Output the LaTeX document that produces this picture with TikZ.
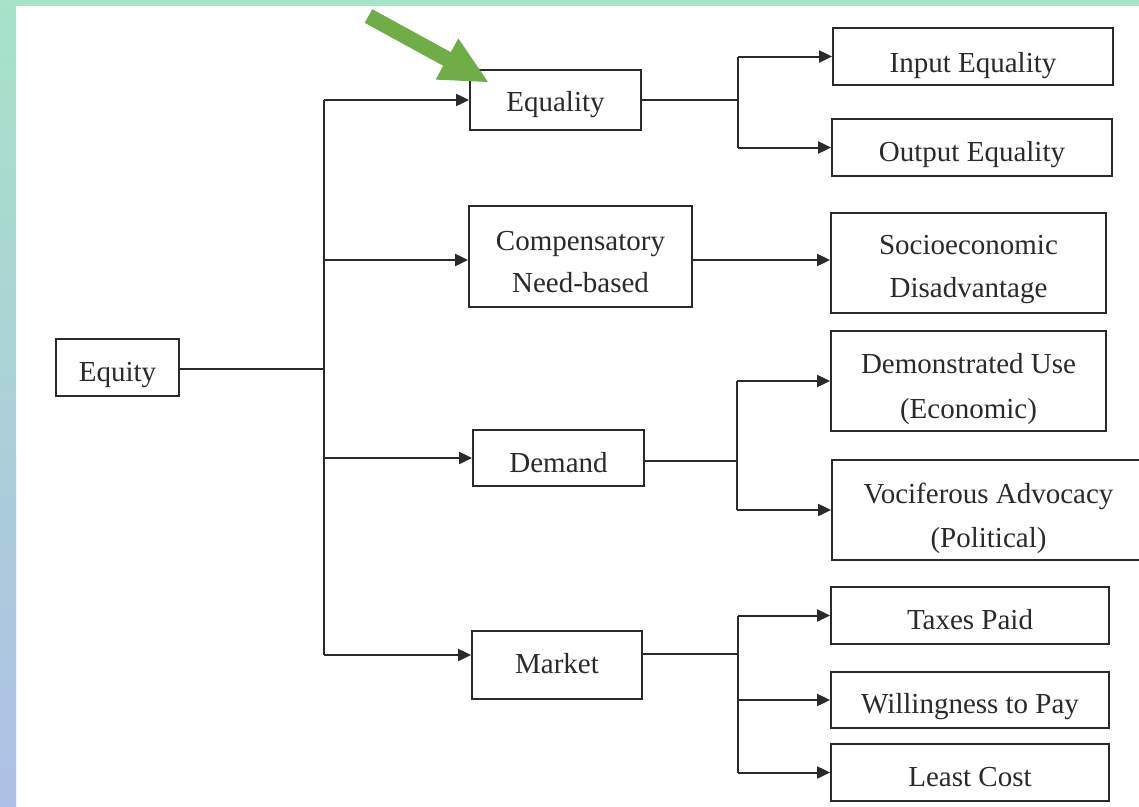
\documentclass[tikz,border=0pt]{standalone}
\usepackage{fontspec}
\setmainfont{Liberation Serif}
\usetikzlibrary{arrows.meta}
\definecolor{bandgreen}{HTML}{A6E3C8}
\definecolor{bandblue}{HTML}{AEC0E6}
\definecolor{arrowgreen}{HTML}{70AD47}
\definecolor{ink}{HTML}{2A2A2A}
\begin{document}
\begin{tikzpicture}[x=1pt,y=-1pt,
  box/.style={draw=ink, line width=1.8pt, text=ink, font=\fontsize{29}{43}\selectfont, align=center, inner sep=0pt, text height=28pt, text depth=0pt},
  conn/.style={draw=ink, line width=2pt},
  arr/.style={conn, -{Triangle[length=13pt,width=12pt]}}]
\useasboundingbox (0,0) rectangle (1139,806);
\fill[white] (0,0) rectangle (1139,806);
\fill[bandgreen] (0,0) rectangle (1139,6);
\shade[top color=bandgreen, bottom color=bandblue] (0,0) rectangle (16,806);

% nodes
\node[box, minimum width=123pt, minimum height=57pt] (equity) at (117.5,367.5) {Equity};
\node[box, minimum width=171pt, minimum height=60pt, text height=23.4pt] (equality) at (555.5,100) {Equality};
\node[box, minimum width=223pt, minimum height=101pt, font=\fontsize{29}{42}\selectfont, text height=71pt] (comp) at (580.5,256.5) {Compensatory\\Need-based};
\node[box, minimum width=171pt, minimum height=56pt] (demand) at (558.5,458) {Demand};
\node[box, minimum width=170pt, minimum height=68pt, text height=16pt] (market) at (557,665) {Market};

\node[box, minimum width=280pt, minimum height=57pt, text height=31pt] (inp) at (973,56.5) {Input Equality};
\node[box, minimum width=280pt, minimum height=57pt] (outp) at (972,147.5) {Output Equality};
\node[box, minimum width=275pt, minimum height=100pt, text height=68pt] (socio) at (968.5,263) {Socioeconomic\\Disadvantage};
\node[box, minimum width=275pt, minimum height=100pt, font=\fontsize{29}{45}\selectfont, text height=74pt] (demo) at (968.5,381) {Demonstrated Use\\(Economic)};
\node[box, minimum width=313pt, minimum height=100pt, font=\fontsize{29}{44}\selectfont, text height=74pt] (voc) at (988.5,510) {Vociferous Advocacy\\(Political)};
\node[box, minimum width=278pt, minimum height=57pt] (taxes) at (970,615.5) {Taxes Paid};
\node[box, minimum width=278pt, minimum height=56pt, text height=26pt] (will) at (970,700) {Willingness to Pay};
\node[box, minimum width=278pt, minimum height=57pt] (least) at (970,772.5) {Least Cost};

% junction coordinates
\coordinate (t) at (324,369);
\coordinate (b1) at (738,99);
\coordinate (b2) at (737,461);
\coordinate (b3) at (738,654);
\coordinate (cpin) at ([yshift=-3.5pt]comp.west);
\coordinate (cpout) at ([yshift=-3.5pt]comp.east);
\coordinate (dmout) at ([yshift=-3pt]demand.east);
\coordinate (mkin) at ([yshift=10pt]market.west);
\coordinate (mkout) at ([yshift=11pt]market.east);

% trunk
\draw[conn] (equity.east |- t) -- (t);
\draw[conn] (t |- equality.west) -- (t |- mkin);
\draw[arr] (t |- equality.west) -- (equality.west);
\draw[arr] (t |- cpin) -- (cpin);
\draw[arr] (t |- demand.west) -- (demand.west);
\draw[arr] (mkin -| t) -- (mkin);

% equality branch
\draw[conn] (equality.east) -- (b1 |- equality.east);
\draw[conn] (b1 |- inp.west) -- (b1 |- outp.west);
\draw[arr] (b1 |- inp.west) -- (inp.west);
\draw[arr] (b1 |- outp.west) -- (outp.west);

% compensatory
\draw[arr] (cpout) -- (cpout -| socio.west);

% demand branch
\draw[conn] (dmout) -- (dmout -| b2);
\draw[conn] (b2 |- demo.west) -- (b2 |- voc.west);
\draw[arr] (b2 |- demo.west) -- (demo.west);
\draw[arr] (b2 |- voc.west) -- (voc.west);

% market branch
\draw[conn] (mkout) -- (mkout -| b3);
\draw[conn] (b3 |- taxes.west) -- (b3 |- least.west);
\draw[arr] (b3 |- taxes.west) -- (taxes.west);
\draw[arr] (b3 |- will.west) -- (will.west);
\draw[arr] (b3 |- least.west) -- (least.west);

% green pointer arrow
\fill[arrowgreen] (372.3,9.2) -- (450.8,52.2) -- (458.3,38.4) -- (488,82) -- (435.7,79.6) -- (443.2,65.8) -- (364.7,22.8) -- cycle;
\end{tikzpicture}
\end{document}
